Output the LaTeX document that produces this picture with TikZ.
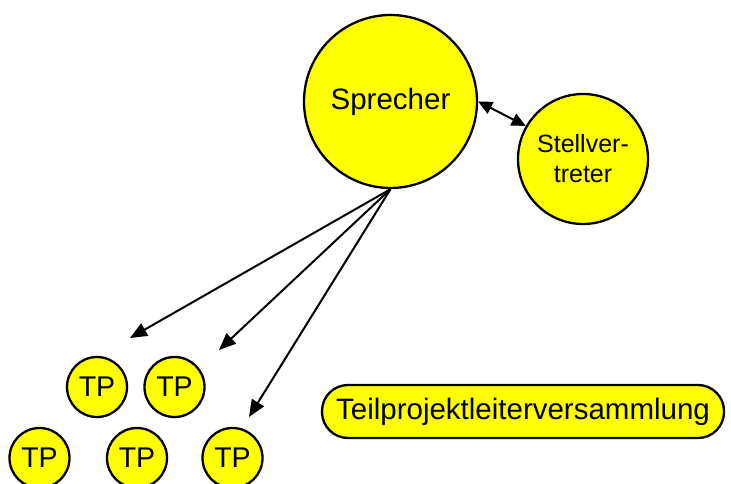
\documentclass[tikz,border=0pt]{standalone}
\usepackage{fontspec}
\setmainfont{Liberation Sans}
\usetikzlibrary{arrows.meta}
\definecolor{ballyellow}{RGB}{255,255,0}

\begin{document}
\begin{tikzpicture}[
  x=1pt, y=-1pt,
  ball/.style={circle, draw, line width=2.3pt, fill=ballyellow, inner sep=0pt,
               minimum size=#1, align=center},
  ball/.default=60pt,
  arr/.style={-{Triangle[length=17pt,width=14pt]}, line width=2pt},
  darr/.style={{Triangle[length=14pt,width=13pt]}-{Triangle[length=14pt,width=13pt]},
               line width=2pt}]
\useasboundingbox (0,0) rectangle (731,484);
\node[ball=173pt, font=\fontsize{29.5}{34}\selectfont] (spr) at (390.5,101.5) {Sprecher};
\node[ball=130pt, font=\fontsize{25}{30}\selectfont] (stv) at (583,159) {Stellver-\\treter};
% Teilprojekte
\node[ball, font=\fontsize{28.5}{32}\selectfont] (tp1) at (97,387) {TP};
\node[ball, font=\fontsize{28.5}{32}\selectfont] (tp2) at (174.5,387) {TP};
\node[ball, font=\fontsize{28.5}{32}\selectfont] (tp3) at (39.5,458) {TP};
\node[ball, font=\fontsize{28.5}{32}\selectfont] (tp4) at (137,458) {TP};
\node[ball, font=\fontsize{28.5}{32}\selectfont] (tp5) at (232.5,458) {TP};
\node[draw, line width=2.3pt, fill=ballyellow, rounded corners=26pt, minimum width=402pt,
      minimum height=53pt, font=\fontsize{29.5}{34}\selectfont] (tpv) at (523,411.5)
      {Teilprojektleiterversammlung};
% arrow ends above the TP groups
\coordinate (e1) at (130,338);
\coordinate (e2) at (219,350);
\coordinate (e3) at (249,417);
\draw[darr] (spr.east) -- (stv.150);
\draw[arr] (spr.south) -- (e1);
\draw[arr] (spr.south) -- (e2);
\draw[arr] (spr.south) -- (e3);
\end{tikzpicture}
\end{document}
